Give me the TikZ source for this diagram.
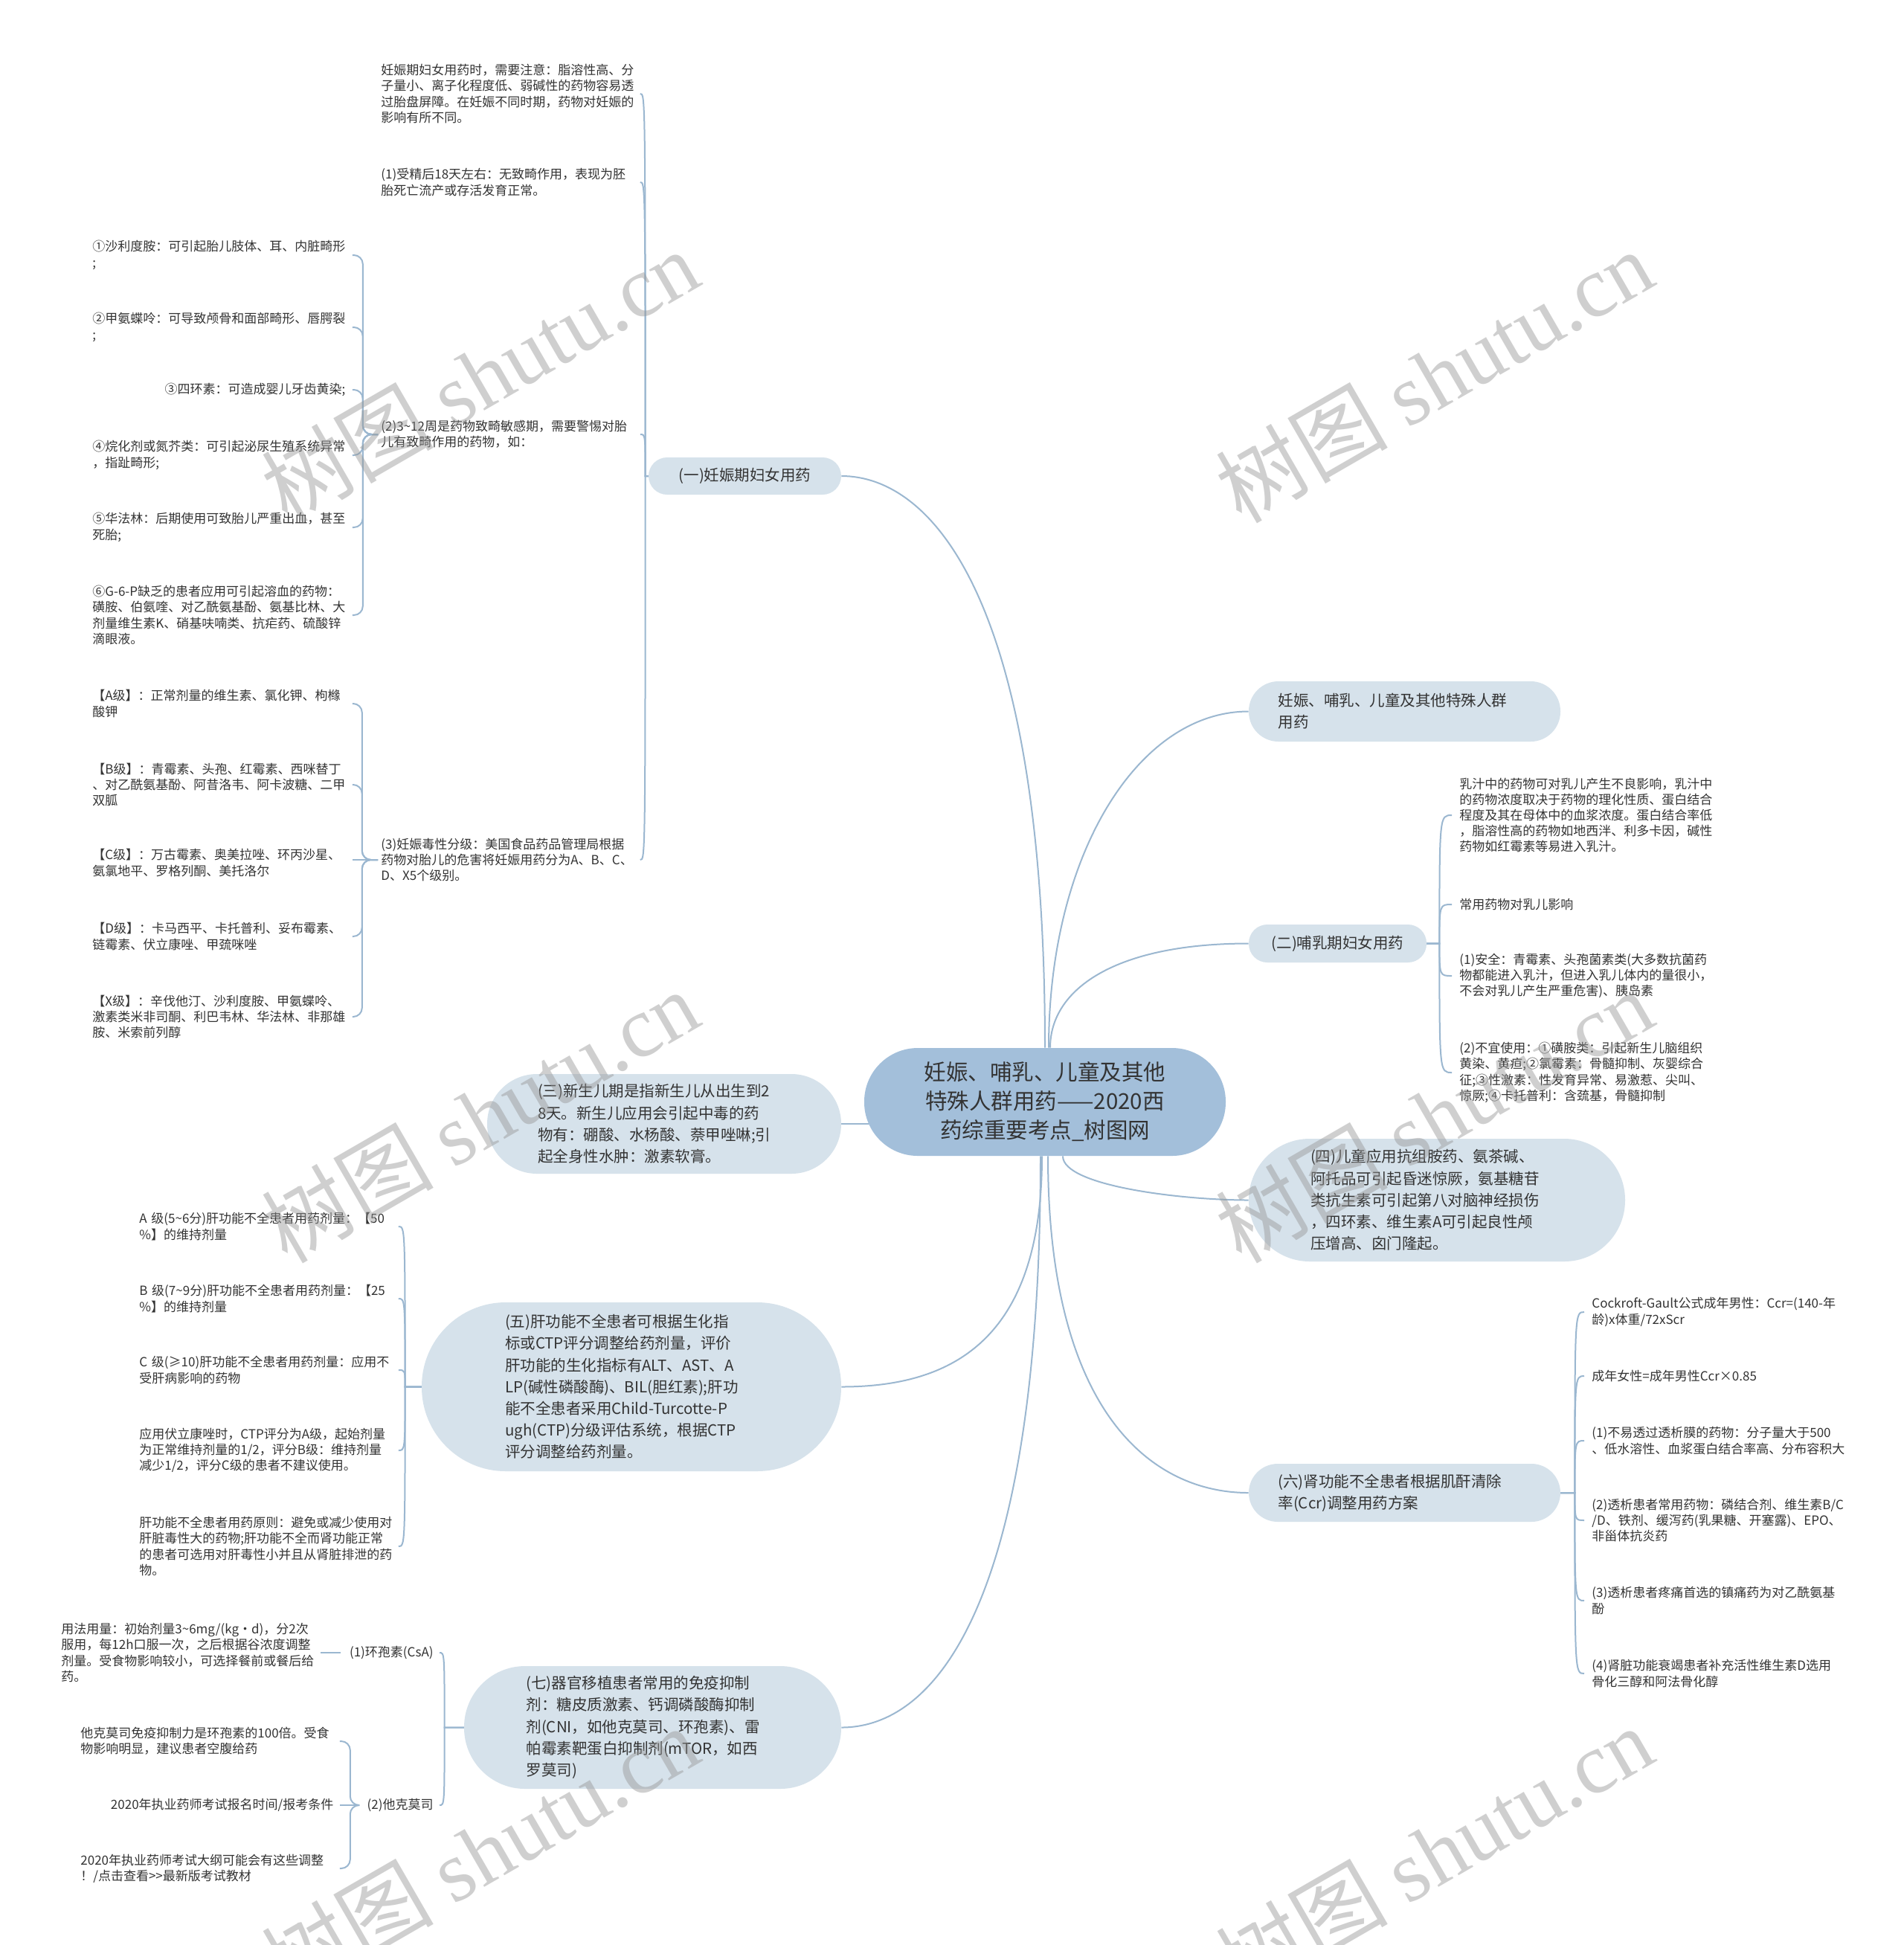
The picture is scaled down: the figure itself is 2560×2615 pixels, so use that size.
\documentclass[tikz,border=0pt]{standalone}
\usepackage{fontspec}
\setmainfont{Noto Sans CJK SC}
\newfontfamily\wmlatin{Liberation Serif}
\usetikzlibrary{calc,backgrounds}
\exhyphenpenalty=10000
\hyphenpenalty=10000
\definecolor{linec}{RGB}{155,183,208}
\definecolor{rootfill}{RGB}{163,191,218}
\definecolor{brfill}{RGB}{214,226,235}
\definecolor{txtc}{RGB}{51,51,51}
\definecolor{wmc}{RGB}{150,150,150}
\begin{document}
\begin{tikzpicture}[x=0.5pt,y=-0.5pt,
  conn/.style={draw=linec,line width=1pt},
  leaf/.style={inner sep=0pt,text=txtc,font=\fontsize{8.5pt}{10.6pt}\selectfont,align=left,text width=170pt,anchor=west},
  leafr/.style={leaf,align=right},
  subleaf/.style={inner sep=0pt,text=txtc,font=\fontsize{8.5pt}{10.6pt}\selectfont,anchor=east},
  br/.style={fill=brfill,text=txtc,font=\fontsize{10.25pt}{14.6pt}\selectfont,inner sep=0pt},
  brw/.style={br,align=left,text width=170pt},
  wmark/.style={rotate=30,text=wmc,text opacity=0.45,font=\fontsize{58pt}{60pt}\selectfont}]
\useasboundingbox (0,0) rectangle (2560,2615);

% root
\node[fill=rootfill,text=txtc,rounded corners=36pt,minimum width=243pt,minimum height=72.5pt,inner sep=0pt,align=center,font=\fontsize{14.75pt}{19.5pt}\selectfont] (root) at (1405,1481.5) {妊娠、哺乳、儿童及其他\\特殊人群用药——2020西\\药综重要考点\_树图网};

% branches
\node[br,rounded corners=12.5pt,minimum width=129.5pt,minimum height=25pt] (b1) at (1001.5,640) {(一)妊娠期妇女用药};
\node[brw,rounded corners=20pt,minimum width=209.5pt,minimum height=40.5pt] (b2) at (1888.5,956.5) {妊娠、哺乳、儿童及其他特殊人群\\用药};
\node[brw,rounded corners=33.5pt,minimum width=238pt,minimum height=67pt] (b3) at (893,1511) {(三)新生儿期是指新生儿从出生到2\\8天。新生儿应用会引起中毒的药\\物有：硼酸、水杨酸、萘甲唑啉;引\\起全身性水肿：激素软膏。};
\node[br,rounded corners=12.5pt,minimum width=119.5pt,minimum height=25.5pt] (b4) at (1798.5,1268.5) {(二)哺乳期妇女用药};
\node[brw,rounded corners=41pt,minimum width=253pt,minimum height=82.5pt] (b5) at (1932,1613.5) {(四)儿童应用抗组胺药、氨茶碱、\\阿托品可引起昏迷惊厥，氨基糖苷\\类抗生素可引起第八对脑神经损伤\\，四环素、维生素A可引起良性颅\\压增高、囟门隆起。};
\node[brw,rounded corners=56.5pt,minimum width=282pt,minimum height=113.5pt] (b6) at (849,1864.5) {(五)肝功能不全患者可根据生化指\\标或CTP评分调整给药剂量，评价\\肝功能的生化指标有ALT、AST、A\\LP(碱性磷酸酶)、BIL(胆红素);肝功\\能不全患者采用Child-Turcotte-P\\ugh(CTP)分级评估系统，根据CTP\\评分调整给药剂量。};
\node[brw,rounded corners=19.5pt,minimum width=209.5pt,minimum height=39pt] (b7) at (1888.5,2007) {(六)肾功能不全患者根据肌酐清除\\率(Ccr)调整用药方案};
\node[brw,rounded corners=41pt,minimum width=253.5pt,minimum height=82.5pt] (b8) at (877.5,2322.5) {(七)器官移植患者常用的免疫抑制\\剂：糖皮质激素、钙调磷酸酶抑制\\剂(CNI，如他克莫司、环孢素)、雷\\帕霉素靶蛋白抑制剂(mTOR，如西\\罗莫司)};

% (一) children
\node[leaf] (a1) at (512,126) {妊娠期妇女用药时，需要注意：脂溶性高、分\\子量小、离子化程度低、弱碱性的药物容易透\\过胎盘屏障。在妊娠不同时期，药物对妊娠的\\影响有所不同。};
\node[leaf] (a2) at (512,245) {(1)受精后18天左右：无致畸作用，表现为胚\\胎死亡流产或存活发育正常。};
\node[leaf] (a3) at (512,584) {(2)3\textasciitilde12周是药物致畸敏感期，需要警惕对胎\\儿有致畸作用的药物，如：};
\node[leaf] (a4) at (512,1156) {(3)妊娠毒性分级：美国食品药品管理局根据\\药物对胎儿的危害将妊娠用药分为A、B、C、\\D、X5个级别。};

% (2) children
\node[leaf] (c1) at (124,343) {①沙利度胺：可引起胎儿肢体、耳、内脏畸形\\;};
\node[leaf] (c2) at (124,440) {②甲氨蝶呤：可导致颅骨和面部畸形、唇腭裂\\;};
\node[leafr] (c3) at (124,524) {③四环素：可造成婴儿牙齿黄染;};
\node[leaf] (c4) at (124,612) {④烷化剂或氮芥类：可引起泌尿生殖系统异常\\，指趾畸形;};
\node[leaf] (c5) at (124,709) {⑤华法林：后期使用可致胎儿严重出血，甚至\\死胎;};
\node[leaf] (c6) at (124,827) {⑥G-6-P缺乏的患者应用可引起溶血的药物：\\磺胺、伯氨喹、对乙酰氨基酚、氨基比林、大\\剂量维生素K、硝基呋喃类、抗疟药、硫酸锌\\滴眼液。};

% (3) children
\node[leaf] (g1) at (124,946) {【A级】：正常剂量的维生素、氯化钾、枸橼\\酸钾};
\node[leaf] (g2) at (124,1055) {【B级】：青霉素、头孢、红霉素、西咪替丁\\、对乙酰氨基酚、阿昔洛韦、阿卡波糖、二甲\\双胍};
\node[leaf] (g3) at (124,1160) {【C级】：万古霉素、奥美拉唑、环丙沙星、\\氨氯地平、罗格列酮、美托洛尔};
\node[leaf] (g4) at (124,1259) {【D级】：卡马西平、卡托普利、妥布霉素、\\链霉素、伏立康唑、甲巯咪唑};
\node[leaf] (g5) at (124,1367) {【X级】：辛伐他汀、沙利度胺、甲氨蝶呤、\\激素类米非司酮、利巴韦林、华法林、非那雄\\胺、米索前列醇};

% (二) children
\node[leaf] (d1) at (1962,1096) {乳汁中的药物可对乳儿产生不良影响，乳汁中\\的药物浓度取决于药物的理化性质、蛋白结合\\程度及其在母体中的血浆浓度。蛋白结合率低\\，脂溶性高的药物如地西泮、利多卡因，碱性\\药物如红霉素等易进入乳汁。};
\node[leaf] (d2) at (1962,1216) {常用药物对乳儿影响};
\node[leaf] (d3) at (1962,1312) {(1)安全：青霉素、头孢菌素类(大多数抗菌药\\物都能进入乳汁，但进入乳儿体内的量很小，\\不会对乳儿产生严重危害)、胰岛素};
\node[leaf] (d4) at (1962,1442) {(2)不宜使用：①磺胺类：引起新生儿脑组织\\黄染、黄疸;②氯霉素：骨髓抑制、灰婴综合\\征;③性激素：性发育异常、易激惹、尖叫、\\惊厥;④卡托普利：含巯基，骨髓抑制};

% (五) children
\node[leaf] (e1) at (187,1649) {A~级(5\textasciitilde6分)肝功能不全患者用药剂量：【50\\\%】的维持剂量};
\node[leaf] (e2) at (187,1746) {B~级(7\textasciitilde9分)肝功能不全患者用药剂量：【25\\\%】的维持剂量};
\node[leaf] (e3) at (187,1842) {C~级(≥10)肝功能不全患者用药剂量：应用不\\受肝病影响的药物};
\node[leaf] (e4) at (187,1950) {应用伏立康唑时，CTP评分为A级，起始剂量\\为正常维持剂量的1/2，评分B级：维持剂量\\减少1/2，评分C级的患者不建议使用。};
\node[leaf] (e5) at (187,2079) {肝功能不全患者用药原则：避免或减少使用对\\肝脏毒性大的药物;肝功能不全而肾功能正常\\的患者可选用对肝毒性小并且从肾脏排泄的药\\物。};

% (六) children
\node[leaf,text width=175pt] (f1) at (2140,1764) {Cockroft-Gault公式成年男性：Ccr=(140-年\\龄)x体重/72xScr};
\node[leaf] (f2) at (2140,1850) {成年女性=成年男性Ccr×0.85};
\node[leaf,text width=175pt] (f3) at (2140,1937) {(1)不易透过透析膜的药物：分子量大于500\\、低水溶性、血浆蛋白结合率高、分布容积大};
\node[leaf,text width=175pt] (f4) at (2140,2044) {(2)透析患者常用药物：磷结合剂、维生素B/C\\/D、铁剂、缓泻药(乳果糖、开塞露)、EPO、\\非甾体抗炎药};
\node[leaf] (f5) at (2140,2152) {(3)透析患者疼痛首选的镇痛药为对乙酰氨基\\酚};
\node[leaf] (f6) at (2140,2250) {(4)肾脏功能衰竭患者补充活性维生素D选用\\骨化三醇和阿法骨化醇};

% (七) children
\node[subleaf] (t1) at (583,2222) {(1)环孢素(CsA)};
\node[subleaf] (t2) at (583,2427) {(2)他克莫司};
\node[leaf,text width=172.5pt] (k1) at (82,2222) {用法用量：初始剂量3\textasciitilde6mg/(kg·d)，分2次\\服用，每12h口服一次，之后根据谷浓度调整\\剂量。受食物影响较小，可选择餐前或餐后给\\药。};
\node[leaf] (m1) at (108,2341) {他克莫司免疫抑制力是环孢素的100倍。受食\\物影响明显，建议患者空腹给药};
\node[leafr] (m2) at (108,2427) {2020年执业药师考试报名时间/报考条件};
\node[leaf] (m3) at (108,2512) {2020年执业药师考试大纲可能会有这些调整\\！/点击查看>\kern0pt>最新版考试教材};

\begin{pgfonlayer}{background}
\fill[white] (0,0) rectangle (2560,2615);
% root connectors
\draw[conn] (root.north) .. controls +(0,-609) and +(119,0) .. (b1.east);
\draw[conn] ([xshift=2.5pt]root.north) .. controls +(0,-259) and +(-149,0) .. (b2.west);
\draw[conn] ([xshift=3.5pt]root.north) .. controls +(0,-79) and +(-179,0) .. (b4.west);
\draw[conn] (root.center |- b3.east) -- (b3.east);
\draw[conn] ([xshift=12pt]root.south) .. controls +(0,40) and +(-90,0) .. (b5.west);
\draw[conn] ([xshift=-2pt]root.south) .. controls +(0,246) and +(150,0) .. (b6.east);
\draw[conn] ([xshift=2pt]root.south) .. controls +(0,346) and +(-129,0) .. (b7.west);
\draw[conn] ([xshift=-3pt]root.south) .. controls +(0,596) and +(129,0) .. (b8.east);
% (一) group
\foreach \c in {a1,a2,a3,a4}
  \draw[conn] (b1.center) -- ($(b1.west)+(-4,0)$) .. controls ($(b1.west |- \c.east)+(-4,0)$) .. ($(\c.east)+(8,0)$);
% (2) group
\foreach \c in {c1,c2,c3,c4,c5,c6}
  \draw[conn,rounded corners=6pt] ($(a3.west)+(-4,0)$) -| ($(\c.east)+(23,0)$) -- ($(\c.east)+(9,0)$);
% (3) group
\foreach \c in {g1,g2,g4,g5}
  \draw[conn,rounded corners=6pt] ($(a4.west)+(-4,0)$) -| ($(\c.east)+(22,0)$) -- ($(\c.east)+(9,0)$);
\draw[conn] ($(a4.west)+(-4,0)$) -- ($(g3.east |- a4.west)+(9,0)$);
% (二) group
\foreach \c in {d1,d2,d3,d4}
  \draw[conn] (b4.center) -- ($(b4.east)+(17,0)$) .. controls ($(b4.east |- \c.west)+(17,0)$) .. ($(\c.west)+(-10,0)$);
% (五) group
\foreach \c in {e1,e2,e3,e4,e5}
  \draw[conn] (b6.center) -- ($(b6.west)+(-22,0)$) .. controls ($(b6.west |- \c.east)+(-22,0)$) .. ($(\c.east)+(8,0)$);
% (六) group
\foreach \c in {f1,f2,f3,f4,f5,f6}
  \draw[conn] (b7.center) -- ($(b7.east)+(19,0)$) .. controls ($(b7.east |- \c.west)+(19,0)$) .. ($(\c.west)+(-10,0)$);
% (七) group
\foreach \c in {t1,t2}
  \draw[conn] (b8.center) -- ($(b8.west)+(-26,0)$) .. controls ($(b8.west |- \c.east)+(-26,0)$) .. ($(\c.east)+(8,0)$);
\draw[conn] ($(t1.west)+(-12,0)$) -- ($(k1.east |- t1.west)+(3,0)$);
\foreach \c in {m1,m3}
  \draw[conn,rounded corners=6pt] ($(t2.west)+(-10,0)$) -| ($(\c.east)+(22,0)$) -- ($(\c.east)+(8,0)$);
\draw[conn] ($(t2.west)+(-10,0)$) -- ($(m2.east)+(8,0)$);
\end{pgfonlayer}

% watermarks
\node[wmark] (w1) at (645,505) {树图 {\wmlatin shutu.cn}};
\node[wmark] (w2) at (1928,505) {树图 {\wmlatin shutu.cn}};
\node[wmark] (w3) at (645,1500) {树图 {\wmlatin shutu.cn}};
\node[wmark] (w4) at (1928,1500) {树图 {\wmlatin shutu.cn}};
\node[wmark] (w5) at (645,2490) {树图 {\wmlatin shutu.cn}};
\node[wmark] (w6) at (1928,2490) {树图 {\wmlatin shutu.cn}};
\end{tikzpicture}
\end{document}
